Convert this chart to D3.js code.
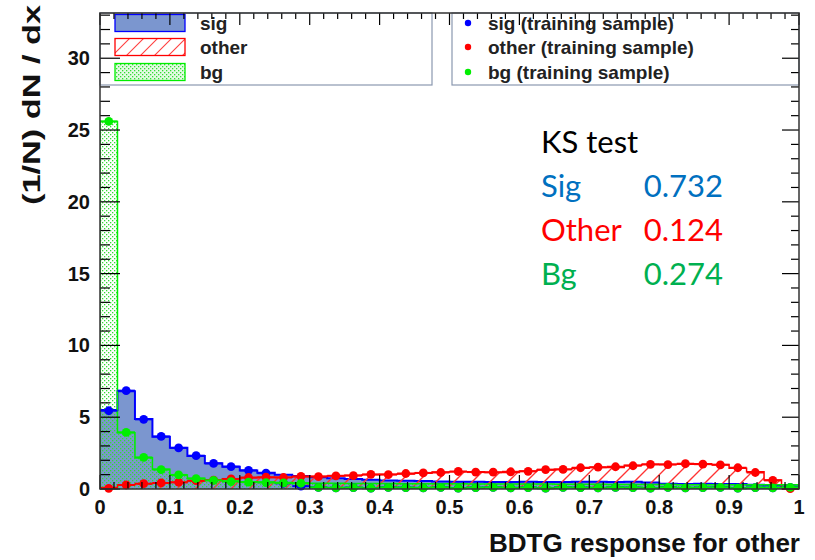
<!DOCTYPE html>
<html><head><meta charset="utf-8">
<script src="https://cdn.jsdelivr.net/npm/d3@7"></script>
<style>body{margin:0;background:#fff}svg{display:block}</style>
</head><body>
<svg id="c" width="815" height="560"></svg>
<script>
// ---- data ----
const binWidth = 0.025;
const binLow = d3.range(40).map(i => +(i * binWidth).toFixed(3));
const sigTest = [5.5,6.8,4.87,3.64,2.88,2.3,1.8,1.55,1.28,1.13,1.0,0.9,0.82,0.75,0.7,0.65,0.6,0.57,0.55,0.52,0.5,0.5,0.49,0.48,0.5,0.49,0.48,0.5,0.5,0.49,0.5,0.46,0.36,0.35,0.36,0.35,0.34,0.3,0.25,0.2];
const sigTrain = [5.45,6.85,4.85,3.66,2.86,2.32,1.78,1.56,1.3,1.1,0.4,0.2,0.12,0.08,0.1,0.06,0.12,0.1,0.08,0.12,0.06,0.1,0.12,0.08,0.1,0.06,0.12,0.1,0.08,0.12,0.1,0.06,0.12,0.08,0.1,0.12,0.06,0.1,0.08,0.12];
const otherTest = [0.1,0.3,0.35,0.4,0.45,0.55,0.65,0.72,0.78,0.8,0.82,0.85,0.88,0.9,0.95,1.0,1.02,1.05,1.1,1.18,1.2,1.2,1.15,1.15,1.25,1.32,1.38,1.45,1.5,1.5,1.65,1.7,1.72,1.72,1.75,1.7,1.45,1.2,0.63,0.02];
const otherTrain = [0.05,0.28,0.37,0.42,0.47,0.58,0.62,0.7,0.8,0.82,0.8,0.88,0.86,0.92,0.93,1.02,1.0,1.08,1.12,1.15,1.22,1.18,1.17,1.2,1.23,1.35,1.36,1.48,1.52,1.55,1.62,1.72,1.7,1.76,1.73,1.68,1.48,1.15,0.6,0.02];
const bgTest = [25.6,3.92,2.18,1.37,0.97,0.74,0.62,0.55,0.5,0.48,0.45,0.42,0.4,0.4,0.38,0.38,0.38,0.37,0.37,0.36,0.36,0.35,0.35,0.35,0.34,0.34,0.33,0.33,0.33,0.32,0.32,0.32,0.31,0.3,0.3,0.3,0.3,0.3,0.3,0.3];
const bgTrain = [25.6,3.95,2.2,1.35,0.98,0.72,0.6,0.52,0.48,0.45,0.42,0.4,0.12,0.08,0.1,0.06,0.12,0.1,0.08,0.12,0.06,0.1,0.12,0.08,0.1,0.06,0.12,0.1,0.08,0.12,0.1,0.06,0.12,0.08,0.1,0.12,0.06,0.1,0.08,0.12];
const xTickValues = [0,0.1,0.2,0.3,0.4,0.5,0.6,0.7,0.8,0.9,1];
const xTickLabels = ["0","0.1","0.2","0.3","0.4","0.5","0.6","0.7","0.8","0.9","1"];
const yTickValues = [0,5,10,15,20,25,30];
const legendLabels = ["sig","other","bg"];
const legendTrainLabels = ["sig (training sample)","other (training sample)","bg (training sample)"];
const ksTitle = "KS test";
const ksNames = ["Sig","Other","Bg"];
const ksValues = ["0.732","0.124","0.274"];

// ---- layout ----
const L = 100, R = 799, T = 13, B = 489;
const x = d3.scaleLinear().domain([0, 1]).range([L, R]);
const y = d3.scaleLinear().domain([0, 33.15]).range([B, T]);
const svg = d3.select("#c");
const defs = svg.append("defs");

defs.append("clipPath").attr("id", "frame").append("rect")
  .attr("x", L).attr("y", T).attr("width", R - L).attr("height", B - T);

const hatch = defs.append("pattern").attr("id", "hatch").attr("patternUnits", "userSpaceOnUse")
  .attr("width", 18).attr("height", 18);
hatch.append("path").attr("d", "M-2,20 L20,-2 M-6,6 L6,-6 M12,24 L24,12")
  .attr("stroke", "#ff3333").attr("stroke-width", 1.4);

const hatchLeg = defs.append("pattern").attr("id", "hatchLeg").attr("patternUnits", "userSpaceOnUse")
  .attr("width", 14).attr("height", 14);
hatchLeg.append("path").attr("d", "M-2,16 L16,-2 M-5,5 L5,-5 M9,19 L19,9")
  .attr("stroke", "#ff4040").attr("stroke-width", 1.1);

const dots = defs.append("pattern").attr("id", "dots").attr("patternUnits", "userSpaceOnUse")
  .attr("width", 4).attr("height", 4);
dots.append("rect").attr("x", 0).attr("y", 0).attr("width", 1.3).attr("height", 1.3).attr("fill", "#33dd33");
dots.append("rect").attr("x", 2).attr("y", 2).attr("width", 1.3).attr("height", 1.3).attr("fill", "#33dd33");

const dotsLeg = defs.append("pattern").attr("id", "dotsLeg").attr("patternUnits", "userSpaceOnUse")
  .attr("width", 4).attr("height", 4);
dotsLeg.append("rect").attr("width", 4).attr("height", 4).attr("fill", "#e4fae4");
dotsLeg.append("rect").attr("x", 0).attr("y", 0).attr("width", 1.3).attr("height", 1.3).attr("fill", "#33dd33");
dotsLeg.append("rect").attr("x", 2).attr("y", 2).attr("width", 1.3).attr("height", 1.3).attr("fill", "#33dd33");

function stepPts(vals) {
  const pts = [];
  vals.forEach((v, i) => { pts.push([binLow[i], v]); pts.push([binLow[i] + binWidth, v]); });
  return pts;
}
const area = d3.area().x(d => x(d[0])).y0(y(0)).y1(d => y(d[1]));
const line = d3.line().x(d => x(d[0])).y(d => y(d[1]));
function outline(vals) { return [[0, 0], ...stepPts(vals), [1, 0]]; }

const hg = svg.append("g").attr("clip-path", "url(#frame)");
hg.append("path").attr("d", area(stepPts(sigTest))).attr("fill", "#7b96cf");
hg.append("path").attr("d", line(outline(sigTest))).attr("fill", "none").attr("stroke", "#0000ff").attr("stroke-width", 2);
hg.append("path").attr("d", area(stepPts(otherTest))).attr("fill", "url(#hatch)");
hg.append("path").attr("d", line(outline(otherTest))).attr("fill", "none").attr("stroke", "#ff0000").attr("stroke-width", 1.5);
hg.append("path").attr("d", area(stepPts(bgTest))).attr("fill", "url(#dots)");
hg.append("path").attr("d", line(outline(bgTest))).attr("fill", "none").attr("stroke", "#00ee00").attr("stroke-width", 1.5);

// ---- legends (drawn beneath the axis ticks) ----
const font = "'Liberation Sans', Arial, Helvetica, sans-serif";
const lg = svg.append("g");
lg.append("rect").attr("x", L).attr("y", T).attr("width", 332).attr("height", 72).attr("fill", "#fff").attr("stroke", "#8a98b0").attr("stroke-width", 1.2);
lg.append("rect").attr("x", 452).attr("y", T).attr("width", 347).attr("height", 72).attr("fill", "#fff").attr("stroke", "#8a98b0").attr("stroke-width", 1.2);
const rowY = [23, 47, 72];
const sw = [
  {fill: "#7b96cf", stroke: "#0000ff"},
  {fill: "url(#hatchLeg)", stroke: "#ff0000"},
  {fill: "url(#dotsLeg)", stroke: "#00ee00"}
];
const trainColors = ["#0000ff", "#ff0000", "#00ee00"];
legendLabels.forEach((lab, i) => {
  lg.append("rect").attr("x", 115).attr("y", rowY[i] - 8.5).attr("width", 70).attr("height", 17)
    .attr("fill", sw[i].fill).attr("stroke", sw[i].stroke).attr("stroke-width", 1.3);
  lg.append("text").attr("x", 200).attr("y", rowY[i] + 6.5).attr("font-family", font).attr("font-weight", "bold")
    .attr("font-size", 19).attr("fill", "#222").text(lab);
});
legendTrainLabels.forEach((lab, i) => {
  lg.append("circle").attr("cx", 468).attr("cy", rowY[i]).attr("r", 3.2).attr("fill", trainColors[i]);
  lg.append("text").attr("x", 488).attr("y", rowY[i] + 6.5).attr("font-family", font).attr("font-weight", "bold")
    .attr("font-size", 19).attr("fill", "#222").text(lab);
});

// training markers
function markers(vals, color) {
  const g = svg.append("g");
  vals.forEach((v, i) => {
    g.append("line").attr("x1", x(binLow[i])).attr("x2", x(binLow[i] + binWidth))
      .attr("y1", y(v)).attr("y2", y(v)).attr("stroke", color).attr("stroke-width", 2);
    g.append("circle").attr("cx", x(binLow[i] + binWidth / 2)).attr("cy", y(v)).attr("r", 4.4).attr("fill", color);
  });
}
markers(sigTrain, "#0000ff");
markers(otherTrain, "#ff0000");
markers(bgTrain, "#00ee00");

// ---- axes (ticks inside frame) ----
const ax = svg.append("g").attr("stroke", "#000");
d3.range(0, 51).forEach(k => {
  const v = k / 50, major = k % 5 === 0, px = x(v);
  ax.append("line").attr("x1", px).attr("x2", px).attr("y1", B).attr("y2", B - (major ? 14 : 7)).attr("stroke-width", 1.2);
  ax.append("line").attr("x1", px).attr("x2", px).attr("y1", T).attr("y2", T + (major ? 12 : 6)).attr("stroke-width", 1.2);
});
d3.range(0, 34).forEach(v => {
  const major = v % 5 === 0, py = y(v);
  ax.append("line").attr("x1", L).attr("x2", L + (major ? 20 : 10)).attr("y1", py).attr("y2", py).attr("stroke-width", 1.2);
  ax.append("line").attr("x1", R).attr("x2", R - (major ? 17 : 8)).attr("y1", py).attr("y2", py).attr("stroke-width", 1.2);
});
svg.append("rect").attr("x", L).attr("y", T).attr("width", R - L).attr("height", B - T)
  .attr("fill", "none").attr("stroke", "#333").attr("stroke-width", 1.5);

const xl = svg.append("g").attr("font-family", font).attr("font-weight", "bold").attr("font-size", 20).attr("text-anchor", "middle").attr("fill", "#111");
xTickValues.forEach((v, i) => xl.append("text").attr("x", x(v)).attr("y", 514).text(xTickLabels[i]));
const yl = svg.append("g").attr("font-family", font).attr("font-weight", "bold").attr("font-size", 20).attr("text-anchor", "end").attr("fill", "#111");
yTickValues.forEach(v => yl.append("text").attr("x", 90).attr("y", y(v) + 7).text(v));

svg.append("text").attr("x", 489).attr("y", 552)
  .attr("font-family", font).attr("font-weight", "bold").attr("font-size", 25)
  .attr("textLength", 311).attr("lengthAdjust", "spacingAndGlyphs").attr("fill", "#111").text("BDTG response for other");
svg.append("text").attr("transform", "translate(40,205) rotate(-90)")
  .attr("font-family", font).attr("font-weight", "bold").attr("font-size", 24)
  .attr("textLength", 200).attr("lengthAdjust", "spacingAndGlyphs").attr("fill", "#111").text("(1/N) dN / dx");

// ---- KS text ----
const ksFont = "Lato, 'Open Sans', sans-serif";
const ksColors = ["#0070c0", "#ff0000", "#00b050"];
svg.append("text").attr("x", 541).attr("y", 153).attr("font-family", ksFont).attr("font-size", 31).attr("fill", "#000").text(ksTitle);
ksNames.forEach((n, i) => {
  svg.append("text").attr("x", 541).attr("y", 197 + i * 44).attr("font-family", ksFont).attr("font-size", 31).attr("fill", ksColors[i]).text(n);
  svg.append("text").attr("x", 723).attr("y", 197 + i * 44).attr("text-anchor", "end").attr("font-family", ksFont).attr("font-size", 31).attr("fill", ksColors[i]).text(ksValues[i]);
});
</script>
</body></html>
